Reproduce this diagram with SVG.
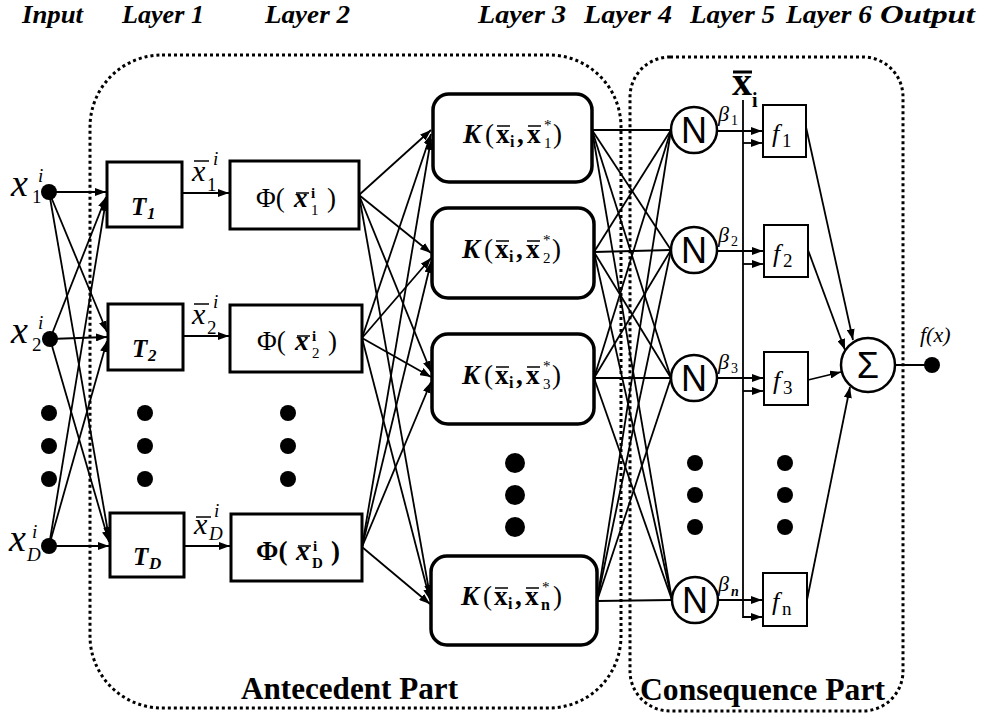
<svg xmlns="http://www.w3.org/2000/svg" width="982" height="720" viewBox="0 0 982 720">
<style>
.hdr{font-family:"Liberation Serif","DejaVu Serif",serif;font-size:25px;font-weight:bold;font-style:italic}
.serif{font-family:"Liberation Serif","DejaVu Serif",serif}
.box{fill:#fff;stroke:#000;stroke-width:3}
.kbox{fill:#fff;stroke:#000;stroke-width:3.5}
.fbox{fill:#fff;stroke:#000;stroke-width:2}
.circ{fill:#fff;stroke:#000;stroke-width:2.5}
.dotb{fill:none;stroke:#000;stroke-width:3;stroke-dasharray:3 3}
.ln{stroke:#000;stroke-width:1.8;fill:none}
.ar{stroke:#000;stroke-width:1.8;fill:none;marker-end:url(#ah)}
.bar{stroke:#000;stroke-width:1.5}
.sans{font-family:"Liberation Sans","DejaVu Sans",sans-serif}
</style>
<defs>
<marker id="ah" viewBox="0 0 10 10" refX="10" refY="5" markerWidth="11" markerHeight="8" markerUnits="userSpaceOnUse" orient="auto" preserveAspectRatio="none"><path d="M0,0 L10,5 L0,10 z" fill="#000"/></marker>
</defs>
<rect width="982" height="720" fill="#fff"/>

<g id="header">
<text class="hdr" x="22" y="23" textLength="61" lengthAdjust="spacingAndGlyphs">Input</text>
<text class="hdr" x="122" y="23" textLength="82" lengthAdjust="spacingAndGlyphs">Layer 1</text>
<text class="hdr" x="265" y="23" textLength="85" lengthAdjust="spacingAndGlyphs">Layer 2</text>
<text class="hdr" x="478" y="23" textLength="88" lengthAdjust="spacingAndGlyphs">Layer 3</text>
<text class="hdr" x="584" y="23" textLength="88" lengthAdjust="spacingAndGlyphs">Layer 4</text>
<text class="hdr" x="690" y="23" textLength="85" lengthAdjust="spacingAndGlyphs">Layer 5</text>
<text class="hdr" x="786" y="23" textLength="86" lengthAdjust="spacingAndGlyphs">Layer 6</text>
<text class="hdr" x="880" y="23" textLength="95" lengthAdjust="spacingAndGlyphs">Output</text>
</g>

<g id="antecedent-part">
<rect class="dotb" x="90" y="55" width="531" height="653" rx="72" ry="72"/>
<text class="serif" x="241" y="699" font-size="31" font-weight="bold" textLength="217" lengthAdjust="spacingAndGlyphs">Antecedent Part</text>
</g>
<g id="consequence-part">
<rect class="dotb" x="630" y="57" width="273" height="654" rx="40" ry="40"/>
<text class="serif" x="640" y="700" font-size="31" font-weight="bold" textLength="245" lengthAdjust="spacingAndGlyphs">Consequence Part</text>
</g>

<g id="connectors">
<line class="ar" x1="49" y1="192" x2="106" y2="192"/>
<line class="ar" x1="50" y1="339" x2="106" y2="197"/>
<line class="ar" x1="49" y1="546" x2="106" y2="200"/>
<line class="ar" x1="49" y1="192" x2="107" y2="332"/>
<line class="ar" x1="50" y1="339" x2="107" y2="337"/>
<line class="ar" x1="49" y1="546" x2="107" y2="341"/>
<line class="ar" x1="49" y1="192" x2="109" y2="538"/>
<line class="ar" x1="50" y1="339" x2="109" y2="542"/>
<line class="ar" x1="49" y1="546" x2="109" y2="546"/>
<line class="ar" x1="182" y1="193" x2="229" y2="193"/>
<line class="ar" x1="183" y1="336" x2="229" y2="336"/>
<line class="ar" x1="184" y1="546" x2="230" y2="546"/>
<line class="ar" x1="359" y1="195" x2="431" y2="130"/>
<line class="ar" x1="359" y1="195" x2="431" y2="253"/>
<line class="ar" x1="359" y1="195" x2="431" y2="372"/>
<line class="ar" x1="359" y1="195" x2="430" y2="596"/>
<line class="ar" x1="362" y1="338" x2="431" y2="134"/>
<line class="ar" x1="362" y1="338" x2="431" y2="258"/>
<line class="ar" x1="362" y1="338" x2="431" y2="377"/>
<line class="ar" x1="362" y1="338" x2="430" y2="600"/>
<line class="ar" x1="362" y1="547" x2="431" y2="139"/>
<line class="ar" x1="362" y1="547" x2="431" y2="262"/>
<line class="ar" x1="362" y1="547" x2="431" y2="382"/>
<line class="ar" x1="362" y1="547" x2="430" y2="604"/>
<line class="ln" x1="592" y1="130" x2="671" y2="130"/>
<line class="ln" x1="592" y1="130" x2="671" y2="250"/>
<line class="ln" x1="592" y1="130" x2="671" y2="378"/>
<line class="ln" x1="592" y1="130" x2="672" y2="600"/>
<line class="ln" x1="594" y1="252" x2="671" y2="130"/>
<line class="ln" x1="594" y1="252" x2="671" y2="250"/>
<line class="ln" x1="594" y1="252" x2="671" y2="378"/>
<line class="ln" x1="594" y1="252" x2="672" y2="600"/>
<line class="ln" x1="594" y1="378" x2="671" y2="130"/>
<line class="ln" x1="594" y1="378" x2="671" y2="250"/>
<line class="ln" x1="594" y1="378" x2="671" y2="378"/>
<line class="ln" x1="594" y1="378" x2="672" y2="600"/>
<line class="ln" x1="597" y1="601" x2="671" y2="130"/>
<line class="ln" x1="597" y1="601" x2="671" y2="250"/>
<line class="ln" x1="597" y1="601" x2="671" y2="378"/>
<line class="ln" x1="597" y1="601" x2="672" y2="600"/>
<line class="ar" x1="717" y1="131" x2="762" y2="131"/>
<line class="ar" x1="717" y1="251" x2="763" y2="251"/>
<line class="ar" x1="717" y1="378" x2="763" y2="378"/>
<line class="ar" x1="718" y1="600" x2="762" y2="600"/>
<path class="ar" d="M743,100 V617 H762"/>
<line class="ar" x1="743" y1="143" x2="762" y2="143"/>
<line class="ar" x1="743" y1="264" x2="763" y2="264"/>
<line class="ar" x1="743" y1="391" x2="763" y2="391"/>
<line class="ar" x1="806" y1="127" x2="853" y2="340"/>
<line class="ar" x1="808" y1="250" x2="845" y2="350"/>
<line class="ar" x1="808" y1="380" x2="841" y2="372"/>
<line class="ar" x1="807" y1="600" x2="850" y2="387"/>
<line class="ln" x1="895" y1="365" x2="932" y2="365"/>
</g>

<g id="x1">
<circle cx="49" cy="192" r="8"/>
<text class="serif" x="11" y="196" font-size="38" font-style="italic">x</text>
<text class="serif" x="32" y="203" font-size="19">1</text>
<text class="serif" x="38" y="182" font-size="19" font-style="italic">i</text>
</g>
<g id="x2">
<circle cx="50" cy="339" r="8"/>
<text class="serif" x="11" y="343" font-size="38" font-style="italic">x</text>
<text class="serif" x="32" y="351" font-size="19">2</text>
<text class="serif" x="38" y="329" font-size="19" font-style="italic">i</text>
</g>
<g id="xD">
<circle cx="49" cy="546" r="8"/>
<text class="serif" x="9" y="551" font-size="38" font-style="italic">x</text>
<text class="serif" x="27" y="561" font-size="19" font-style="italic">D</text>
<text class="serif" x="32" y="538" font-size="19" font-style="italic">i</text>
</g>
<g id="input-ellipsis">
<circle cx="49" cy="413" r="8"/><circle cx="49" cy="446" r="8"/><circle cx="49" cy="479" r="8"/>
</g>

<g id="T1">
<rect class="box" x="107" y="162" width="75" height="65"/>
<text class="serif" x="131" y="215" font-size="25" font-weight="bold" font-style="italic">T</text>
<text class="serif" x="147" y="219" font-size="17" font-weight="bold" font-style="italic">1</text>
</g>
<g id="T2">
<rect class="box" x="108" y="304" width="75" height="66"/>
<text class="serif" x="132" y="357" font-size="25" font-weight="bold" font-style="italic">T</text>
<text class="serif" x="148" y="361" font-size="17" font-weight="bold" font-style="italic">2</text>
</g>
<g id="TD">
<rect class="box" x="110" y="513" width="74" height="64"/>
<text class="serif" x="133" y="565" font-size="25" font-weight="bold" font-style="italic">T</text>
<text class="serif" x="149" y="569" font-size="17" font-weight="bold" font-style="italic">D</text>
</g>
<g id="T-ellipsis">
<circle cx="145" cy="413" r="8"/><circle cx="145" cy="446" r="8"/><circle cx="145" cy="479" r="8"/>
</g>

<g id="xbar1-label">
<text class="serif" x="192" y="181" font-size="30" font-style="italic">x</text>
<line class="bar" x1="194" y1="161" x2="209" y2="161"/>
<text class="serif" x="207" y="191" font-size="19">1</text>
<text class="serif" x="213" y="165" font-size="19" font-style="italic">i</text>
</g>
<g id="xbar2-label">
<text class="serif" x="192" y="324" font-size="30" font-style="italic">x</text>
<line class="bar" x1="194" y1="304" x2="209" y2="304"/>
<text class="serif" x="207" y="334" font-size="19">2</text>
<text class="serif" x="213" y="308" font-size="19" font-style="italic">i</text>
</g>
<g id="xbarD-label">
<text class="serif" x="194" y="534" font-size="30" font-style="italic">x</text>
<line class="bar" x1="196" y1="517" x2="211" y2="517"/>
<text class="serif" x="209" y="540" font-size="19" font-style="italic">D</text>
<text class="serif" x="214" y="517" font-size="19" font-style="italic">i</text>
</g>

<g id="Phi1">
<rect class="box" x="230" y="161" width="129" height="68"/>
<text class="serif" x="256" y="207" font-size="27">Φ(</text>
<text class="serif" x="294" y="207" font-size="27" font-weight="bold" font-style="italic">x</text>
<line class="bar" x1="296" y1="193" x2="309" y2="193"/>
<text class="serif" x="311" y="198" font-size="15" font-weight="bold">i</text>
<text class="serif" x="311" y="215" font-size="15">1</text>
<text class="serif" x="327" y="207" font-size="27">)</text>
</g>
<g id="Phi2">
<rect class="box" x="230" y="305" width="132" height="67"/>
<text class="serif" x="257" y="350" font-size="27">Φ(</text>
<text class="serif" x="295" y="350" font-size="27" font-weight="bold" font-style="italic">x</text>
<line class="bar" x1="297" y1="336" x2="310" y2="336"/>
<text class="serif" x="312" y="341" font-size="15" font-weight="bold">i</text>
<text class="serif" x="312" y="358" font-size="15">2</text>
<text class="serif" x="328" y="350" font-size="27">)</text>
</g>
<g id="PhiD">
<rect class="box" x="231" y="514" width="131" height="67"/>
<text class="serif" x="256" y="560" font-size="27" font-weight="bold">Φ(</text>
<text class="serif" x="296" y="560" font-size="27" font-weight="bold" font-style="italic">x</text>
<line class="bar" x1="298" y1="546" x2="311" y2="546" stroke-width="2"/>
<text class="serif" x="313" y="551" font-size="15" font-weight="bold">i</text>
<text class="serif" x="312" y="568" font-size="15" font-weight="bold">D</text>
<text class="serif" x="331" y="560" font-size="27" font-weight="bold">)</text>
</g>
<g id="Phi-ellipsis">
<circle cx="288" cy="413" r="8"/><circle cx="288" cy="446" r="8"/><circle cx="288" cy="479" r="8"/>
</g>

<g id="K1">
<rect class="kbox" x="433" y="94" width="159" height="88" rx="16" ry="16"/>
<g transform="translate(463,143)">
<text class="serif" x="0" y="0" font-size="27" font-weight="bold" font-style="italic">K</text>
<text class="serif" x="22" y="0" font-size="27">(</text>
<text class="serif" x="33" y="0" font-size="27" font-weight="bold">x</text>
<line class="bar" x1="34" y1="-17" x2="47" y2="-17" stroke-width="2"/>
<text class="serif" x="47" y="4" font-size="16" font-weight="bold">i</text>
<text class="serif" x="54" y="0" font-size="27" font-weight="bold">,</text>
<text class="serif" x="64" y="0" font-size="27" font-weight="bold">x</text>
<line class="bar" x1="65" y1="-17" x2="78" y2="-17" stroke-width="2"/>
<text class="serif" x="81" y="-13" font-size="15">*</text>
<text class="serif" x="81" y="5" font-size="15">1</text>
<text class="serif" x="90" y="0" font-size="27">)</text>
</g>
</g>
<g id="K2">
<rect class="kbox" x="432" y="208" width="162" height="90" rx="16" ry="16"/>
<g transform="translate(462,258)">
<text class="serif" x="0" y="0" font-size="27" font-weight="bold" font-style="italic">K</text>
<text class="serif" x="22" y="0" font-size="27">(</text>
<text class="serif" x="33" y="0" font-size="27" font-weight="bold">x</text>
<line class="bar" x1="34" y1="-17" x2="47" y2="-17" stroke-width="2"/>
<text class="serif" x="47" y="4" font-size="16" font-weight="bold">i</text>
<text class="serif" x="54" y="0" font-size="27" font-weight="bold">,</text>
<text class="serif" x="64" y="0" font-size="27" font-weight="bold">x</text>
<line class="bar" x1="65" y1="-17" x2="78" y2="-17" stroke-width="2"/>
<text class="serif" x="81" y="-13" font-size="15">*</text>
<text class="serif" x="81" y="5" font-size="15">2</text>
<text class="serif" x="90" y="0" font-size="27">)</text>
</g>
</g>
<g id="K3">
<rect class="kbox" x="432" y="334" width="162" height="90" rx="16" ry="16"/>
<g transform="translate(462,384)">
<text class="serif" x="0" y="0" font-size="27" font-weight="bold" font-style="italic">K</text>
<text class="serif" x="22" y="0" font-size="27">(</text>
<text class="serif" x="33" y="0" font-size="27" font-weight="bold">x</text>
<line class="bar" x1="34" y1="-17" x2="47" y2="-17" stroke-width="2"/>
<text class="serif" x="47" y="4" font-size="16" font-weight="bold">i</text>
<text class="serif" x="54" y="0" font-size="27" font-weight="bold">,</text>
<text class="serif" x="64" y="0" font-size="27" font-weight="bold">x</text>
<line class="bar" x1="65" y1="-17" x2="78" y2="-17" stroke-width="2"/>
<text class="serif" x="81" y="-13" font-size="15">*</text>
<text class="serif" x="81" y="5" font-size="15">3</text>
<text class="serif" x="90" y="0" font-size="27">)</text>
</g>
</g>
<g id="Kn">
<rect class="kbox" x="431" y="556" width="166" height="89" rx="16" ry="16"/>
<g transform="translate(461,605)">
<text class="serif" x="0" y="0" font-size="27" font-weight="bold" font-style="italic">K</text>
<text class="serif" x="22" y="0" font-size="27">(</text>
<text class="serif" x="33" y="0" font-size="27" font-weight="bold">x</text>
<line class="bar" x1="34" y1="-17" x2="47" y2="-17" stroke-width="2"/>
<text class="serif" x="47" y="4" font-size="16" font-weight="bold">i</text>
<text class="serif" x="54" y="0" font-size="27" font-weight="bold">,</text>
<text class="serif" x="64" y="0" font-size="27" font-weight="bold">x</text>
<line class="bar" x1="65" y1="-17" x2="78" y2="-17" stroke-width="2"/>
<text class="serif" x="81" y="-13" font-size="15">*</text>
<text class="serif" x="80" y="5" font-size="16" font-weight="bold">n</text>
<text class="serif" x="92" y="0" font-size="27">)</text>
</g>
</g>
<g id="K-ellipsis">
<circle cx="515" cy="463" r="10"/><circle cx="515" cy="495" r="10"/><circle cx="515" cy="527" r="10"/>
</g>

<g id="N1">
<circle class="circ" cx="694" cy="130" r="23"/>
<text class="sans" x="694" y="143" font-size="36" text-anchor="middle">N</text>
</g>
<g id="N2">
<circle class="circ" cx="694" cy="250" r="23"/>
<text class="sans" x="694" y="263" font-size="36" text-anchor="middle">N</text>
</g>
<g id="N3">
<circle class="circ" cx="694" cy="378" r="23"/>
<text class="sans" x="694" y="391" font-size="36" text-anchor="middle">N</text>
</g>
<g id="Nn">
<circle class="circ" cx="695" cy="600" r="23"/>
<text class="sans" x="695" y="613" font-size="36" text-anchor="middle">N</text>
</g>
<g id="N-ellipsis">
<circle cx="695" cy="463" r="8"/><circle cx="695" cy="495" r="8"/><circle cx="695" cy="527" r="8"/>
</g>

<g id="beta-labels">
<text class="serif" x="718" y="121" font-size="22" font-style="italic">β</text>
<text class="serif" x="731" y="125" font-size="14">1</text>
<text class="serif" x="718" y="242" font-size="22" font-style="italic">β</text>
<text class="serif" x="731" y="246" font-size="14">2</text>
<text class="serif" x="718" y="369" font-size="22" font-style="italic">β</text>
<text class="serif" x="731" y="373" font-size="14">3</text>
<text class="serif" x="718" y="591" font-size="22" font-style="italic">β</text>
<text class="serif" x="731" y="596" font-size="14" font-weight="bold" font-style="italic">n</text>
</g>

<g id="xi-label">
<text class="serif" x="732" y="95" font-size="40" font-weight="bold">x</text>
<line x1="733" y1="72" x2="752" y2="72" stroke="#000" stroke-width="3"/>
<text class="serif" x="752" y="107" font-size="20" font-weight="bold">i</text>
</g>

<g id="f1">
<rect class="fbox" x="763" y="105" width="43" height="52"/>
<text class="serif" x="772" y="142" font-size="26" font-style="italic">f</text>
<text class="serif" x="782" y="147" font-size="19">1</text>
</g>
<g id="f2">
<rect class="fbox" x="764" y="225" width="44" height="52"/>
<text class="serif" x="773" y="262" font-size="26" font-style="italic">f</text>
<text class="serif" x="783" y="267" font-size="19">2</text>
</g>
<g id="f3">
<rect class="fbox" x="764" y="352" width="44" height="53"/>
<text class="serif" x="773" y="389" font-size="26" font-style="italic">f</text>
<text class="serif" x="783" y="394" font-size="19">3</text>
</g>
<g id="fn">
<rect class="fbox" x="763" y="573" width="44" height="53"/>
<text class="serif" x="772" y="610" font-size="26" font-style="italic">f</text>
<text class="serif" x="782" y="615" font-size="19">n</text>
</g>
<g id="f-ellipsis">
<circle cx="785" cy="463" r="8"/><circle cx="785" cy="495" r="8"/><circle cx="785" cy="527" r="8"/>
</g>

<g id="sigma">
<circle class="circ" cx="868" cy="365" r="27"/>
<text class="sans" x="868" y="378" font-size="36" text-anchor="middle">Σ</text>
</g>
<g id="output">
<circle cx="932" cy="365" r="8"/>
<text class="serif" x="920" y="342" font-size="22" font-style="italic">f(x)</text>
</g>
</svg>
